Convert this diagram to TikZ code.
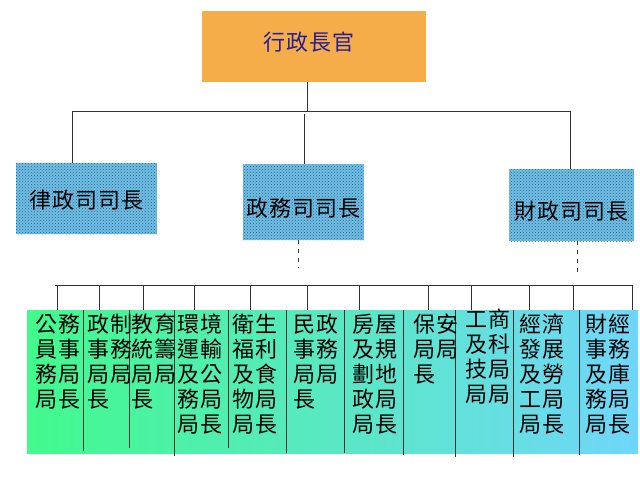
\documentclass[tikz,border=0pt]{standalone}
\usepackage{fontspec}
\newfontfamily\cjk[LetterSpace=5]{Noto Sans CJK TC}
\usetikzlibrary{patterns}

\definecolor{chieforange}{RGB}{245,173,74}
\definecolor{chiefblue}{RGB}{40,30,150}
\definecolor{seclight}{RGB}{112,190,230}
\definecolor{secdark}{RGB}{40,100,130}
\definecolor{burgreen}{RGB}{66,250,140}
\definecolor{burblue}{RGB}{112,214,250}
\definecolor{linegray}{RGB}{51,51,51}

\begin{document}
\begin{tikzpicture}[
  x=1pt, y=-1pt,
  every node/.style={font=\cjk\fontsize{22}{25}\selectfont},
  chiefbox/.style={fill=chieforange, text=chiefblue, minimum width=224pt, minimum height=71pt},
  secbox/.style={preaction={fill=seclight}, pattern=crosshatch dots, pattern color=secdark, inner sep=0pt, text depth=3pt},
  burtext/.style={anchor=north west, align=left, inner sep=0pt},
  link/.style={draw=linegray, line width=0.8pt},
  tail/.style={link, dash pattern=on 4pt off 5pt}
]
\useasboundingbox (0,0) rectangle (640,480);

% Chief
\node[chiefbox, text height=19pt, text depth=11pt] (chief) at (314,46.5) {行政長官\hspace*{10pt}};

% Secretaries
\node[secbox, minimum width=141pt, minimum height=71pt, text height=23pt] (justice) at (86.5,198.5) {律政司司長};
\node[secbox, minimum width=121pt, minimum height=76pt, text height=31pt] (admin) at (303.5,202) {政務司司長};
\node[secbox, minimum width=125pt, minimum height=72pt, text height=31pt] (finance) at (571.5,205) {財政司司長};

% Upper links
\coordinate (topbus) at (307,111);
\coordinate (busL) at (72,111);
\coordinate (busR) at (570,111);
\coordinate (adminstub) at (304,114);
\draw[link] (chief.south -| topbus) -- (topbus);
\draw[link] (busL) -- (busR);
\draw[link] (busL) -- (busL |- justice.north);
\draw[link] (adminstub) -- (adminstub |- admin.north);
\draw[link] (busR) -- (busR |- finance.north);

% Dashed tails
\coordinate (admintail) at (298,268);
\coordinate (fintail) at (577,276);
\draw[tail] (admintail |- admin.south) -- (admintail);
\draw[tail] (fintail |- finance.south) -- (fintail);

% Lower bus
\coordinate (lowL) at (55,285);
\coordinate (lowR) at (632,285);
\draw[link] (lowL) -- (lowR);
\foreach \x in {57,99,143,194,250,307,359,428,471,529,573,632}
  \draw[link] (\x,285) -- (\x,310);

% Bureaus
\shade[left color=burgreen, right color=burblue] (27,310) rectangle (638,453);
\foreach \x/\y in {83/451,129/448,174/456,228/448,286/453,344/453,403/455,455/457,513/457,579/455}
  \draw[link] (\x,310) -- (\x,\y);

\node[burtext] (civil) at (35,314) {公務\\員事\\務局\\局長};
\node[burtext] (constit) at (87,314) {政制\\事務\\局局\\長};
\node[burtext] (edu) at (131,314) {教育\\統籌\\局局\\長};
\node[burtext] (envt) at (177,314) {環境\\運輸\\及公\\務局\\局長};
\node[burtext] (health) at (232,314) {衛生\\福利\\及食\\物局\\局長};
\node[burtext] (home) at (293,314) {民政\\事務\\局局\\長};
\node[burtext] (housing) at (352,314) {房屋\\及規\\劃地\\政局\\局長};
\node[burtext] (security) at (413,314) {保安\\局局\\長};
\node[burtext] (commerce) at (465,309) {工商\\及科\\技局\\局局};
\node[burtext] (economy) at (519,314) {經濟\\發展\\及勞\\工局\\局長};
\node[burtext] (treasury) at (585,314) {財經\\事務\\及庫\\務局\\局長};

\end{tikzpicture}
\end{document}
